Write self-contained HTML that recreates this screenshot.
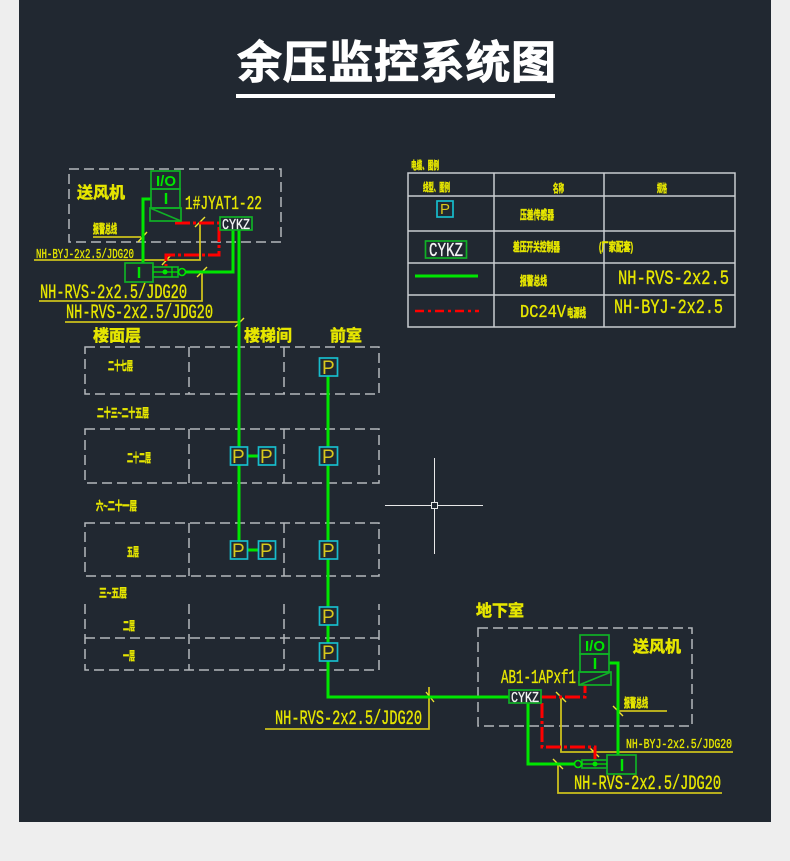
<!DOCTYPE html>
<html><head><meta charset="utf-8"><style>
html,body{margin:0;padding:0;background:#eeeeee;width:790px;height:861px;overflow:hidden}
svg{display:block}
.cj{font-family:"Liberation Sans","Noto Sans CJK SC",sans-serif;fill:#e6e600;stroke:#e6e600;stroke-width:.35}
.m{font-family:"Liberation Mono",monospace;fill:#e6e600;stroke:#e6e600;stroke-width:.35}
.s{font-weight:700;stroke-width:.5}
.g3{fill:none;stroke:#00e600;stroke-width:3}
.bx{fill:none;stroke:#10b026;stroke-width:1.7}
.r{fill:none;stroke:#ff0000;stroke-width:3;stroke-dasharray:15 3 3 3}
.y{fill:none;stroke:#ccc01c;stroke-width:1.8}
.t{fill:none;stroke:#eee430;stroke-width:1.4}
.d{fill:none;stroke:#b4b8bc;stroke-width:1.5;stroke-dasharray:10 5}
.c{fill:none;stroke:#18bccc;stroke-width:1.7}
.pt{font-family:"Liberation Sans",sans-serif;font-size:19px;fill:#d8c81c}
.gt{font-family:"Liberation Sans",sans-serif;font-weight:700;fill:#00e600}
.wt{font-family:"Liberation Mono",monospace;fill:#f4f4f4;stroke:#f4f4f4;stroke-width:.3}
.l{fill:none;stroke:#c8ccd0;stroke-width:1.5}
</style></head><body>
<svg width="790" height="861" viewBox="0 0 790 861" xmlns="http://www.w3.org/2000/svg">
<rect x="0" y="0" width="790" height="861" fill="#eeeeee"/>
<rect x="19" y="0" width="752" height="822" fill="#212831"/>
<text x="237" y="78" font-family="'Liberation Sans','Noto Sans CJK SC',sans-serif" font-weight="700" font-size="45" fill="#ffffff" stroke="#ffffff" stroke-width=".8" textLength="319" lengthAdjust="spacing">余压监控系统图</text>
<rect x="236" y="94" width="319" height="4" fill="#ffffff"/>

<!-- dashed boxes -->
<rect class="d" x="69" y="169" width="212" height="73"/>
<rect class="d" x="478" y="628" width="214" height="98"/>
<rect class="d" x="85" y="347" width="294" height="47"/>
<rect class="d" x="85" y="429" width="294" height="54"/>
<rect class="d" x="85" y="523" width="294" height="53"/>
<path class="d" d="M85 604V670H379V604M85 638H379"/>
<path class="d" d="M189 347V394M284 347V394M189 429V483M284 429V483M189 523V576M284 523V576M189 604V670M284 604V670"/>

<!-- yellow leaders -->
<path class="y" d="M93 237H141M34 260H200V222M39 301H202V272M65 322H239"/>
<path class="y" d="M618 711H667M561 697V752H733M558 764V793H722M265 729H429V687"/>
<path class="t" d="M138 242L147 232M195 227L205 217M162 265L171 255M197 277L207 267M235 327L244 318M613 706L623 716M556 692L566 702M589 747L599 757M553 759L563 769M426 692L434 702"/>

<!-- green wires -->
<path class="g3" d="M151 199H143V263M186 272H233V230M239 230V447M239 465V541M248 456H258M248 550H258"/>
<path class="g3" d="M328 376V447M328 465V541M328 559V607M328 625V643M328 661V697H509"/>
<path class="g3" d="M609 663H618V755M574 764H528V703"/>

<!-- red wires -->
<path class="r" d="M175 223H219V255H166V267"/>
<path class="r" d="M541 697H585V685M542 703V747H595V760"/>

<!-- top devices -->
<rect class="bx" x="151" y="171" width="29" height="18"/>
<rect class="bx" x="151" y="189" width="29" height="19"/>
<rect class="bx" x="150" y="208" width="31" height="13"/>
<path class="bx" d="M150 208L181 221"/>
<text class="gt" x="156" y="186" font-size="15" textLength="20" lengthAdjust="spacingAndGlyphs">I/O</text>
<path d="M166 193V204" stroke="#00e600" stroke-width="2.4"/>
<rect class="bx" x="125" y="263" width="28" height="19"/>
<path d="M139 267V278" stroke="#00e600" stroke-width="2.4"/>
<rect class="bx" x="153" y="267" width="25" height="10"/>
<path d="M153 272H178" stroke="#00e600" stroke-width="1.2"/>
<circle cx="165" cy="272" r="2.5" fill="#00e600"/>
<path d="M172 267V277" stroke="#00e600" stroke-width="1.2"/>
<circle cx="182" cy="272" r="3.5" fill="none" stroke="#00e600" stroke-width="1.6"/>
<rect x="220" y="217" width="32" height="13" fill="#212831" stroke="#10b026" stroke-width="1.7"/>
<text class="wt" x="222" y="229" font-size="15" textLength="28" lengthAdjust="spacingAndGlyphs">CYKZ</text>

<!-- bottom devices -->
<rect class="bx" x="580" y="635" width="29" height="19"/>
<rect class="bx" x="580" y="654" width="29" height="18"/>
<rect class="bx" x="579" y="672" width="32" height="13"/>
<path class="bx" d="M579 685L611 672"/>
<text class="gt" x="585" y="651" font-size="15" textLength="20" lengthAdjust="spacingAndGlyphs">I/O</text>
<path d="M595 658V669" stroke="#00e600" stroke-width="2.4"/>
<rect class="bx" x="607" y="755" width="29" height="19"/>
<path d="M622 759V771" stroke="#00e600" stroke-width="2.4"/>
<rect class="bx" x="582" y="760" width="25" height="8"/>
<path d="M582 764H607" stroke="#00e600" stroke-width="1.2"/>
<circle cx="595" cy="764" r="2.5" fill="#00e600"/>
<circle cx="578" cy="764" r="3.5" fill="none" stroke="#00e600" stroke-width="1.6"/>
<rect x="509" y="690" width="32" height="13" fill="#212831" stroke="#10b026" stroke-width="1.7"/>
<text class="wt" x="511" y="702" font-size="15" textLength="28" lengthAdjust="spacingAndGlyphs">CYKZ</text>

<!-- P sensors -->
<g>
<rect x="319.500" y="358" width="18" height="18" class="c"/><text class="pt" x="322" y="374">P</text>
<rect x="319.500" y="447" width="18" height="18" class="c"/><text class="pt" x="322" y="463">P</text>
<rect x="319.500" y="541" width="18" height="18" class="c"/><text class="pt" x="322" y="557">P</text>
<rect x="319.500" y="607" width="18" height="18" class="c"/><text class="pt" x="322" y="623">P</text>
<rect x="319.500" y="643" width="18" height="18" class="c"/><text class="pt" x="322" y="659">P</text>
<rect x="230.500" y="447" width="17" height="18" class="c"/><text class="pt" x="232" y="463">P</text>
<rect x="258.500" y="447" width="17" height="18" class="c"/><text class="pt" x="260" y="463">P</text>
<rect x="230.500" y="541" width="17" height="18" class="c"/><text class="pt" x="232" y="557">P</text>
<rect x="258.500" y="541" width="17" height="18" class="c"/><text class="pt" x="260" y="557">P</text>
</g>

<!-- mono labels -->
<text class="m" x="36" y="258" font-size="14" textLength="98" lengthAdjust="spacingAndGlyphs">NH-BYJ-2x2.5/JDG20</text>
<text class="m" x="40" y="298" font-size="20" textLength="147" lengthAdjust="spacingAndGlyphs">NH-RVS-2x2.5/JDG20</text>
<text class="m" x="66" y="318" font-size="20" textLength="147" lengthAdjust="spacingAndGlyphs">NH-RVS-2x2.5/JDG20</text>
<text class="m" x="185" y="209" font-size="19" textLength="77" lengthAdjust="spacingAndGlyphs">1#JYAT1-22</text>
<text class="m" x="275" y="724" font-size="20" textLength="147" lengthAdjust="spacingAndGlyphs">NH-RVS-2x2.5/JDG20</text>
<text class="m" x="574" y="789" font-size="20" textLength="147" lengthAdjust="spacingAndGlyphs">NH-RVS-2x2.5/JDG20</text>
<text class="m" x="626" y="748" font-size="14" textLength="106" lengthAdjust="spacingAndGlyphs">NH-BYJ-2x2.5/JDG20</text>
<text class="m" x="501" y="683" font-size="19" textLength="75" lengthAdjust="spacingAndGlyphs">AB1-1APxf1</text>

<!-- CJK labels -->
<text class="cj s" x="77" y="198" font-size="16" textLength="48">送风机</text>
<text class="cj s" x="633" y="652" font-size="16" textLength="48">送风机</text>
<text class="cj s" x="93" y="341" font-size="16" textLength="48">楼面层</text>
<text class="cj s" x="244" y="341" font-size="16" textLength="48">楼梯间</text>
<text class="cj s" x="330" y="341" font-size="16" textLength="32">前室</text>
<text class="cj s" x="476" y="616" font-size="16" textLength="48">地下室</text>
<text class="cj s" x="93" y="233" font-size="12" textLength="24" lengthAdjust="spacingAndGlyphs">报警总线</text>
<text class="cj s" x="624" y="707" font-size="12" textLength="24" lengthAdjust="spacingAndGlyphs">报警总线</text>

<text class="cj s" x="108" y="370" font-size="12" textLength="25" lengthAdjust="spacingAndGlyphs">二十七层</text>
<text class="cj s" x="97" y="417" font-size="12" textLength="52" lengthAdjust="spacingAndGlyphs">二十三~二十五层</text>
<text class="cj s" x="127" y="462" font-size="12" textLength="24" lengthAdjust="spacingAndGlyphs">二十二层</text>
<text class="cj s" x="96" y="510" font-size="12" textLength="41" lengthAdjust="spacingAndGlyphs">六~二十一层</text>
<text class="cj s" x="127" y="556" font-size="12" textLength="12" lengthAdjust="spacingAndGlyphs">五层</text>
<text class="cj s" x="99" y="597" font-size="12" textLength="28" lengthAdjust="spacingAndGlyphs">三~五层</text>
<text class="cj s" x="123" y="630" font-size="12" textLength="12" lengthAdjust="spacingAndGlyphs">二层</text>
<text class="cj s" x="123" y="660" font-size="12" textLength="12" lengthAdjust="spacingAndGlyphs">一层</text>

<!-- crosshair -->
<path d="M385 505.500H431M437 505.500H483M434.500 458V502M434.500 509V554" stroke="#e8e8e8" stroke-width="1" fill="none"/>
<rect x="431.500" y="502.500" width="6" height="6" fill="none" stroke="#e8e8e8" stroke-width="1"/>

<!-- legend -->
<rect class="l" x="408" y="173" width="327" height="154"/>
<path class="l" d="M494 173V327M604 173V327M408 196H735M408 231H735M408 263H735M408 295H735"/>
<text class="cj s" x="411" y="169" font-size="11" textLength="28" lengthAdjust="spacingAndGlyphs">电缆、图例</text>
<text class="cj s" x="423" y="191" font-size="11" textLength="27" lengthAdjust="spacingAndGlyphs">线型、图例</text>
<text class="cj s" x="553" y="192" font-size="11" textLength="11" lengthAdjust="spacingAndGlyphs">名称</text>
<text class="cj s" x="657" y="192" font-size="11" textLength="10" lengthAdjust="spacingAndGlyphs">规格</text>
<rect class="c" x="437" y="201" width="16" height="16"/>
<text x="440" y="214" font-family="'Liberation Sans',sans-serif" font-size="15" fill="#d8c81c">P</text>
<text class="cj s" x="520" y="219" font-size="12" textLength="34" lengthAdjust="spacingAndGlyphs">压差传感器</text>
<rect class="bx" x="425.500" y="241" width="41" height="17"/>
<text class="wt" x="429" y="256" font-size="19" textLength="34" lengthAdjust="spacingAndGlyphs">CYKZ</text>
<text class="cj s" x="513" y="251" font-size="12" textLength="47" lengthAdjust="spacingAndGlyphs">差压开关控制器</text>
<text class="cj s" x="599" y="251" font-size="12" textLength="34" lengthAdjust="spacingAndGlyphs">(厂家配套)</text>
<path d="M415 276H478" stroke="#00e600" stroke-width="3"/>
<text class="cj s" x="520" y="285" font-size="12" textLength="27" lengthAdjust="spacingAndGlyphs">报警总线</text>
<text class="m" x="618" y="284" font-size="20" textLength="111" lengthAdjust="spacingAndGlyphs">NH-RVS-2x2.5</text>
<path d="M415 311H479" stroke="#ff0000" stroke-width="2.500" stroke-dasharray="9 4 3 4" fill="none"/>
<text class="m" x="520" y="317" font-size="18" textLength="46" lengthAdjust="spacingAndGlyphs">DC24V</text>
<text class="cj s" x="567" y="317" font-size="12" textLength="19" lengthAdjust="spacingAndGlyphs">电源线</text>
<text class="m" x="614" y="313" font-size="20" textLength="109" lengthAdjust="spacingAndGlyphs">NH-BYJ-2x2.5</text>
</svg>
</body></html>
